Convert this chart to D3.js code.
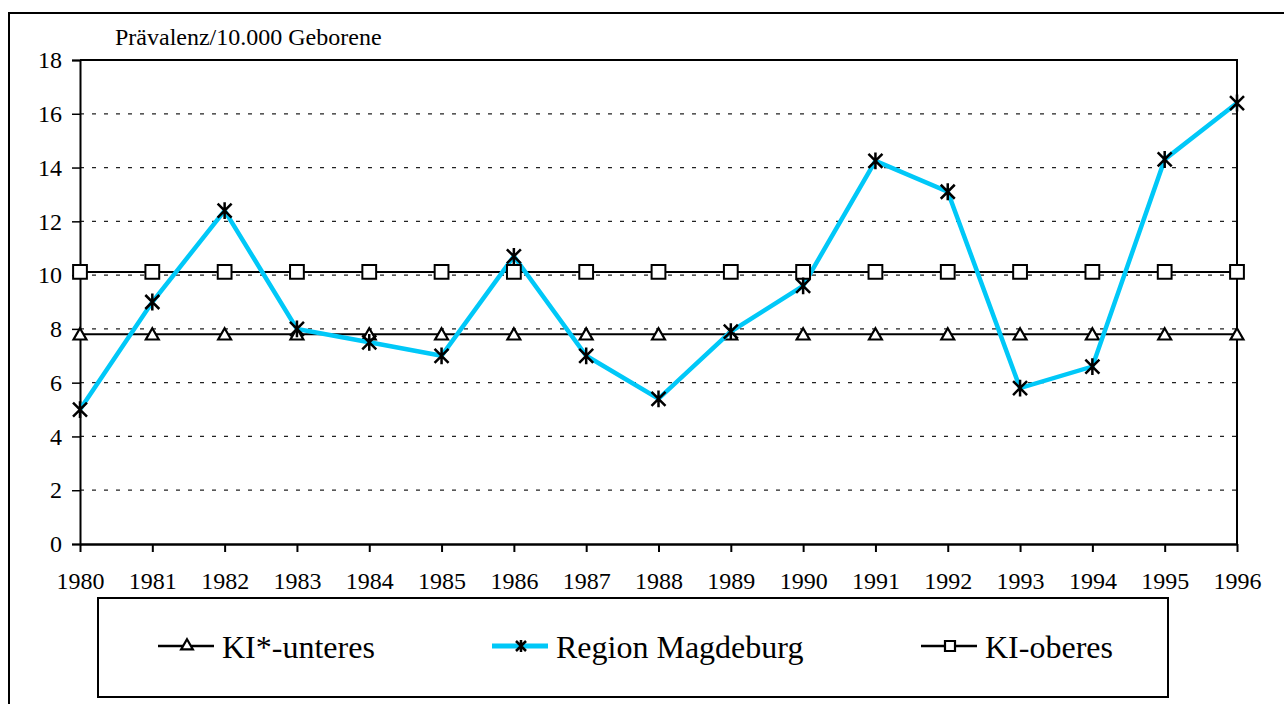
<!DOCTYPE html>
<html lang="de">
<head>
<meta charset="UTF-8">
<title>Prävalenz Region Magdeburg</title>
<script src="https://cdnjs.cloudflare.com/ajax/libs/d3/7.9.0/d3.min.js"></script>
<style>
  body { margin: 0; background: #fff; overflow: hidden; }
</style>
</head>
<body>
<div id="root"></div>
<script>
// data
const years = [1980, 1981, 1982, 1983, 1984, 1985, 1986, 1987, 1988, 1989, 1990, 1991, 1992, 1993, 1994, 1995, 1996]
const kiUnteres = [7.8, 7.8, 7.8, 7.8, 7.8, 7.8, 7.8, 7.8, 7.8, 7.8, 7.8, 7.8, 7.8, 7.8, 7.8, 7.8, 7.8]
const magdeburg = [5.0, 9.0, 12.4, 8.0, 7.5, 7.0, 10.7, 7.0, 5.4, 7.9, 9.6, 14.25, 13.1, 5.8, 6.6, 14.3, 16.4]
const kiOberes = [10.12, 10.12, 10.12, 10.12, 10.12, 10.12, 10.12, 10.12, 10.12, 10.12, 10.12, 10.12, 10.12, 10.12, 10.12, 10.12, 10.12]
const yTicks = [0, 2, 4, 6, 8, 10, 12, 14, 16, 18]
const yLabel = 'Prävalenz/10.000 Geborene'
const seriesNames = ['KI*-unteres', 'Region Magdeburg', 'KI-oberes']

const W = 1284, H = 704
const plot = { left: 80, top: 60, right: 1237, bottom: 544 }
const blue = '#00c8f8'
const serif = "'Liberation Serif', 'DejaVu Serif', serif"

const svg = d3.select('#root').append('svg')
  .attr('width', W).attr('height', H)
  .attr('font-family', serif)

// outer frame (runs off the right / bottom edge)
svg.append('rect')
  .attr('x', 9).attr('y', 13)
  .attr('width', W + 20).attr('height', H + 20)
  .attr('fill', 'none').attr('stroke', '#000').attr('stroke-width', 2)

const x = d3.scalePoint().domain(years).range([plot.left, plot.right])
const y = d3.scaleLinear().domain([0, 18]).range([plot.bottom, plot.top])

// gridlines
svg.append('g')
  .selectAll('line')
  .data(yTicks.filter(d => d > 0 && d < 18))
  .enter().append('line')
  .attr('x1', plot.left).attr('x2', plot.right)
  .attr('y1', d => y(d)).attr('y2', d => y(d))
  .attr('stroke', '#222').attr('stroke-width', 1.2)
  .attr('stroke-dasharray', '4,8')

// plot area frame top + right
svg.append('path')
  .attr('d', `M${plot.left},${y(18)}H${plot.right}V${plot.bottom}`)
  .attr('fill', 'none').attr('stroke', '#000').attr('stroke-width', 2)

// Y axis
const yAxis = svg.append('g')
  .attr('transform', `translate(${plot.left},0)`)
  .call(d3.axisLeft(y).tickValues(yTicks).tickSize(8).tickPadding(10).tickFormat(d3.format('d')))
yAxis.attr('font-family', serif).attr('font-size', 24)
yAxis.select('.domain').attr('stroke-width', 2)
yAxis.selectAll('.tick line').attr('stroke-width', 1.5)

// X axis
const xAxis = svg.append('g')
  .attr('transform', `translate(0,${plot.bottom})`)
  .call(d3.axisBottom(x).tickSize(8).tickPadding(20).tickSizeOuter(0))
xAxis.attr('font-family', serif).attr('font-size', 24)
xAxis.select('.domain').attr('stroke-width', 2.5)
xAxis.selectAll('.tick line').attr('stroke-width', 2)

// axis title
svg.append('text')
  .attr('x', 115).attr('y', 45)
  .attr('font-size', 24)
  .text(yLabel)

// markers
const triPath = d3.symbol().type(d3.symbolTriangle).size(72)
const sqPath = d3.symbol().type(d3.symbolSquare).size(190)
function star(g, cx, cy, r) {
  g.append('path')
    .attr('d', `M${cx - r},${cy - r}L${cx + r},${cy + r}M${cx - r},${cy + r}L${cx + r},${cy - r}M${cx},${cy - r * 1.2}V${cy + r * 1.2}`)
    .attr('stroke', '#000').attr('stroke-width', 2.5).attr('fill', 'none')
}

const line = d3.line().x((d, i) => x(years[i])).y(d => y(d))

// KI-unteres
svg.append('path').datum(kiUnteres)
  .attr('d', line).attr('fill', 'none').attr('stroke', '#000').attr('stroke-width', 2)
svg.append('g').selectAll('path')
  .data(kiUnteres).enter().append('path')
  .attr('d', triPath)
  .attr('transform', (d, i) => `translate(${x(years[i])},${y(d) + 1.5})`)
  .attr('fill', '#fff').attr('stroke', '#000').attr('stroke-width', 2.2)

// KI-oberes
svg.append('path').datum(kiOberes)
  .attr('d', line).attr('fill', 'none').attr('stroke', '#000').attr('stroke-width', 2)

// Region Magdeburg
svg.append('path').datum(magdeburg)
  .attr('d', line).attr('fill', 'none').attr('stroke', blue).attr('stroke-width', 4.5)

svg.append('g').selectAll('path')
  .data(kiOberes).enter().append('path')
  .attr('d', sqPath)
  .attr('transform', (d, i) => `translate(${x(years[i])},${y(d)})`)
  .attr('fill', '#fff').attr('stroke', '#000').attr('stroke-width', 2)

const stars = svg.append('g')
magdeburg.forEach((d, i) => star(stars, x(years[i]), y(d), 7))

// legend
svg.append('rect')
  .attr('x', 98).attr('y', 598).attr('width', 1070).attr('height', 99)
  .attr('fill', '#fff').attr('stroke', '#000').attr('stroke-width', 2)

const legendItems = [
  { name: seriesNames[0], x: 158, color: '#000', w: 2.5, mark: 'tri' },
  { name: seriesNames[1], x: 492, color: blue, w: 5, mark: 'star' },
  { name: seriesNames[2], x: 921, color: '#000', w: 2.5, mark: 'sq' }
]
const ly = 646
legendItems.forEach(it => {
  const g = svg.append('g')
  g.append('line')
    .attr('x1', it.x).attr('x2', it.x + 56)
    .attr('y1', ly).attr('y2', ly)
    .attr('stroke', it.color).attr('stroke-width', it.w)
  const cx = it.x + 29
  if (it.mark === 'tri') {
    g.append('path').attr('d', d3.symbol().type(d3.symbolTriangle).size(60))
      .attr('transform', `translate(${cx},${ly})`)
      .attr('fill', '#fff').attr('stroke', '#000').attr('stroke-width', 2.2)
  } else if (it.mark === 'sq') {
    g.append('path').attr('d', d3.symbol().type(d3.symbolSquare).size(100))
      .attr('transform', `translate(${cx},${ly})`)
      .attr('fill', '#fff').attr('stroke', '#000').attr('stroke-width', 2.2)
  } else {
    star(g, cx, ly, 5)
  }
  g.append('text')
    .attr('x', it.x + 64).attr('y', 658)
    .attr('font-size', 32)
    .text(it.name)
})
</script>
</body>
</html>
